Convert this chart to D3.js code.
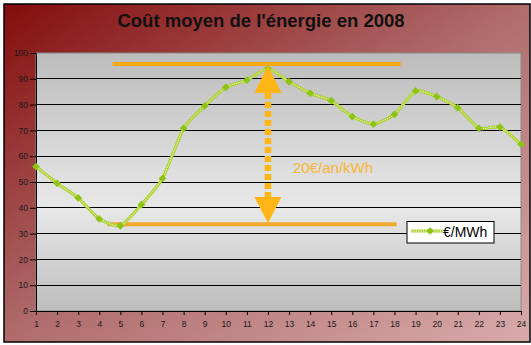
<!DOCTYPE html>
<html><head><meta charset="utf-8">
<script src="https://cdn.jsdelivr.net/npm/d3@7"></script>
<style>html,body{margin:0;padding:0;background:#fff}svg{display:block}</style>
</head><body>
<svg id="c" width="531" height="345"></svg>
<script>
const title = "Coût moyen de l'énergie en 2008";
const hours = d3.range(1, 25);
const cost = [56, 49.5, 43.8, 35.7, 33, 41.2, 51.4, 70.8, 79.5, 86.7, 89.5, 94, 88.9, 84.4, 81.5, 75.3, 72.4, 76.2, 85.3, 83.1, 78.8, 70.8, 71.3, 64.6];
const yTicks = [0, 10, 20, 30, 40, 50, 60, 70, 80, 90, 100];
const seriesName = "€/MWh";
const annotationText = "20€/an/kWh";
// annotation lines: [value, from hour, to hour]
const maxLine = [95.7, 4.64, 18.3];
const minLine = [33.6, 4.38, 18.1];
const arrowHour = 12;
const arrowTop = 95.3, arrowBottom = 34;

const svg = d3.select("#c");
const defs = svg.append("defs");
const bg = defs.append("linearGradient").attr("id","bg").attr("x1",0).attr("y1",0).attr("x2",1).attr("y2",1);
bg.append("stop").attr("offset","0").attr("stop-color","#840c0c");
bg.append("stop").attr("offset","0.5").attr("stop-color","#b06c6c");
bg.append("stop").attr("offset","1").attr("stop-color","#d9abab");
const pg = defs.append("linearGradient").attr("id","pg").attr("x1",0).attr("y1",0).attr("x2",0).attr("y2",1);
pg.append("stop").attr("offset","0").attr("stop-color","#bcbcbc");
pg.append("stop").attr("offset","0.6").attr("stop-color","#e8e8e8");
pg.append("stop").attr("offset","1").attr("stop-color","#bdbdbd");

svg.append("rect").attr("x",0).attr("y",0).attr("width",531).attr("height",345).attr("fill","#fff");
svg.append("rect").attr("x",4).attr("y",4).attr("width",526).attr("height",338)
  .attr("fill","url(#bg)").attr("stroke","#000").attr("stroke-width",1.5);

svg.append("text").attr("x",261).attr("y",27).attr("text-anchor","middle")
  .attr("font-family","Liberation Sans, Arial, sans-serif").attr("font-weight","bold")
  .attr("font-size",18.5).attr("fill","#111").text(title);

const L = 36, R = 521, T = 53, B = 311;
const x = d3.scalePoint().domain(hours).range([L, R]).padding(0);
const xn = d3.scaleLinear().domain([1, 24]).range([L, R]);
const y = d3.scaleLinear().domain([0, 100]).range([B, T]);

svg.append("rect").attr("x",L).attr("y",T).attr("width",R-L).attr("height",B-T)
  .attr("fill","url(#pg)").attr("stroke","#8a8a8a").attr("stroke-width",1);

// gridlines
svg.append("g").selectAll("line").data(yTicks.filter(d => d > 0 && d < 100)).join("line")
  .attr("x1",L).attr("x2",R).attr("y1",d => y(d)).attr("y2",d => y(d))
  .attr("stroke","#000").attr("stroke-width",1).attr("shape-rendering","crispEdges");

const font = "Liberation Sans, Arial, sans-serif";
const ya = svg.append("g").attr("transform",`translate(${L},0)`)
  .call(d3.axisLeft(y).tickValues(yTicks).tickSize(6).tickPadding(2).tickSizeOuter(0));
ya.select(".domain").attr("stroke","#000");
ya.selectAll("text").attr("font-family",font).attr("font-size",8.5).attr("fill","#1a1a1a");

const xa = svg.append("g").attr("transform",`translate(0,${B})`)
  .call(d3.axisBottom(x).tickSize(4).tickPadding(6).tickSizeOuter(0));
xa.select(".domain").attr("stroke","#000");
xa.selectAll("text").attr("font-family",font).attr("font-size",8.5).attr("fill","#1a1a1a");

// annotation horizontal lines
svg.append("g").selectAll("line").data([maxLine, minLine]).join("line")
  .attr("x1",d => xn(d[1])).attr("x2",d => xn(d[2])).attr("y1",d => y(d[0])).attr("y2",d => y(d[0]))
  .attr("stroke",(d,i) => i ? "#f2aa2e" : "#ffa712").attr("stroke-width",4);

// series line
const line = d3.line().x((d,i) => x(hours[i])).y(d => y(d)).curve(d3.curveCardinal.tension(0.45));
svg.append("path").datum(cost).attr("d",line).attr("fill","none")
  .attr("stroke","#aed232").attr("stroke-width",3.2);
svg.append("path").datum(cost).attr("d",line).attr("fill","none")
  .attr("stroke","#ffffff").attr("stroke-width",1).attr("stroke-dasharray","1.2,1.2").attr("opacity",0.85);
svg.append("g").selectAll("path").data(cost).join("path")
  .attr("d",d3.symbol().type(d3.symbolSquare).size(30)())
  .attr("transform",(d,i) => `translate(${x(hours[i])},${y(d)}) rotate(45)`)
  .attr("fill","#8cc414");

// arrow
const ax = xn(arrowHour);
const amber = "#ffb515";
const headTopBase = y(84.5), headBotBase = y(44.2);
svg.append("line").attr("x1",ax).attr("x2",ax).attr("y1",headTopBase).attr("y2",headBotBase)
  .attr("stroke",amber).attr("stroke-width",6.5).attr("stroke-dasharray","6,3");
svg.append("path").attr("d",`M${ax},${y(arrowTop)} L${ax+13.5},${headTopBase} L${ax-13.5},${headTopBase} Z`).attr("fill",amber);
svg.append("path").attr("d",`M${ax},${y(arrowBottom)} L${ax+13.5},${headBotBase} L${ax-13.5},${headBotBase} Z`).attr("fill",amber);

svg.append("text").attr("x",293).attr("y",173).attr("font-family",font).attr("font-size",15)
  .attr("fill","#f7b733").text(annotationText);

// legend
const lg = svg.append("g");
lg.append("rect").attr("x",407).attr("y",221.5).attr("width",87).attr("height",21.5)
  .attr("fill","#fff").attr("stroke","#000").attr("stroke-width",1);
lg.append("line").attr("x1",411).attr("x2",443).attr("y1",231).attr("y2",231)
  .attr("stroke","#aed232").attr("stroke-width",3);
lg.append("line").attr("x1",411).attr("x2",443).attr("y1",231).attr("y2",231)
  .attr("stroke","#fff").attr("stroke-width",1).attr("stroke-dasharray","1.2,1.2");
lg.append("path").attr("d",d3.symbol().type(d3.symbolSquare).size(30)())
  .attr("transform","translate(430,231) rotate(45)").attr("fill","#8cc414");
lg.append("text").attr("x",443).attr("y",237).attr("font-family",font).attr("font-size",14)
  .attr("fill","#000").text(seriesName);
</script>
</body></html>
